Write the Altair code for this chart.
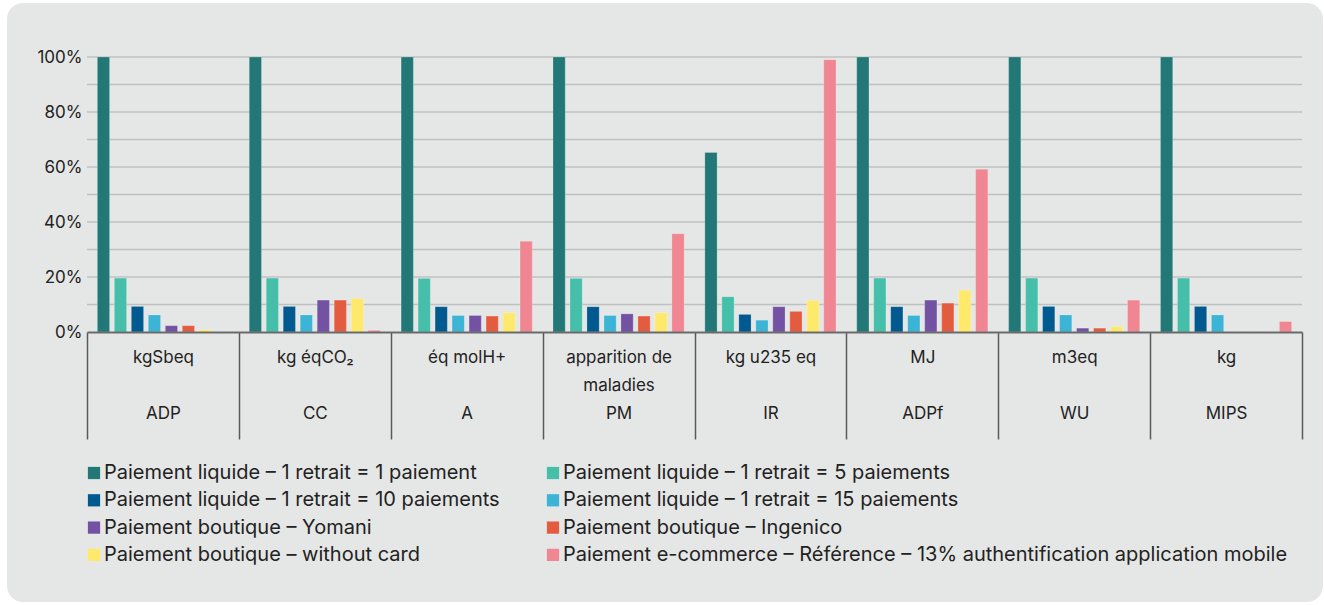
import altair as alt
import pandas as pd

categories = [
    "kgSbeq|\u200b|ADP",
    "kg éqCO₂|\u200b|CC",
    "éq molH+|\u200b|A",
    "apparition de|maladies|PM",
    "kg u235 eq|\u200b|IR",
    "MJ|\u200b|ADPf",
    "m3eq|\u200b|WU",
    "kg|\u200b|MIPS",
]

series = [
    "Paiement liquide – 1 retrait = 1 paiement",
    "Paiement liquide – 1 retrait = 5 paiements",
    "Paiement liquide – 1 retrait = 10 paiements",
    "Paiement liquide – 1 retrait = 15 paiements",
    "Paiement boutique – Yomani",
    "Paiement boutique – Ingenico",
    "Paiement boutique – without card",
    "Paiement e-commerce – Référence – 13% authentification application mobile",
]

colors = ["#227876", "#45bfa9", "#005a8f", "#3bb4d6", "#7452a3", "#e45c3f", "#ffe96b", "#f08691"]

liquide_1 = [100, 100, 100, 100, 65.3, 100, 100, 100]
liquide_5 = [19.6, 19.6, 19.5, 19.5, 12.8, 19.6, 19.6, 19.6]
liquide_10 = [9.3, 9.3, 9.2, 9.2, 6.4, 9.2, 9.3, 9.3]
liquide_15 = [6.2, 6.2, 6.0, 6.0, 4.3, 6.0, 6.2, 6.2]
yomani = [2.3, 11.6, 6.0, 6.6, 9.2, 11.6, 1.4, 0]
ingenico = [2.3, 11.6, 5.8, 5.8, 7.5, 10.5, 1.4, 0]
without_card = [0.8, 12.2, 7.0, 7.0, 11.5, 15.2, 2.0, 0]
ecommerce = [0, 0.6, 33.0, 35.7, 99.0, 59.2, 11.6, 3.8]

grid_values = [0.1, 0.2, 0.3, 0.4, 0.5, 0.6, 0.7, 0.8, 0.9, 1.0]
y_tick_values = [0, 0.2, 0.4, 0.6, 0.8, 1.0]

all_values = [liquide_1, liquide_5, liquide_10, liquide_15, yomani, ingenico, without_card, ecommerce]
rows = []
for s, vals in zip(series, all_values):
    for c, v in zip(categories, vals):
        rows.append({"cat": c, "series": s, "value": v / 100.0})
df = pd.DataFrame(rows)

# legend is filled column by column: reorder so that it reads row by row
legend_order = [0, 2, 4, 6, 1, 3, 5, 7]
legend_domain = [series[i] for i in legend_order]
legend_range = [colors[i] for i in legend_order]

W, H = 1215, 275

y_axis = alt.Axis(
    title=None,
    values=y_tick_values,
    format=".0%",
    grid=False,
    domain=False,
    ticks=False,
    labelFontSize=17,
    labelColor="#222222",
    labelPadding=5,
    zindex=1,
)

bg = alt.Chart(pd.DataFrame({"a": [0]})).mark_rect(
    cornerRadius=16, color="#e5e7e6"
).encode(
    x=alt.value(-80), x2=alt.value(1236), y=alt.value(-54), y2=alt.value(545)
)

grid = alt.Chart(pd.DataFrame({"value": grid_values})).mark_rule(
    color="#bfc1c0", strokeWidth=1.5
).encode(
    y=alt.Y("value:Q", scale=alt.Scale(domain=[0, 1]), axis=y_axis)
)

bars = alt.Chart(df).mark_bar(
    stroke="#ffffff", strokeWidth=0.6, strokeOpacity=0.35
).encode(
    x=alt.X(
        "cat:N",
        sort=categories,
        scale=alt.Scale(paddingInner=0, paddingOuter=0),
        axis=alt.Axis(
            title=None,
            labelAngle=0,
            tickBand="extent",
            tickSize=107,
            tickColor="#5a5a5a",
            tickWidth=1.5,
            domainColor="#6a6a6a",
            domainWidth=2,
            labelPadding=-90,
            labelBaseline="top",
            labelLineHeight=28,
            labelFontSize=17,
            labelColor="#222222",
            labelExpr="split(datum.label, '|')",
            labelOverlap=False,
            zindex=1,
        ),
    ),
    xOffset=alt.XOffset(
        "series:N", sort=series, scale=alt.Scale(paddingInner=0.28, paddingOuter=0.61)
    ),
    y=alt.Y("value:Q", scale=alt.Scale(domain=[0, 1]), axis=y_axis),
    color=alt.Color(
        "series:N",
        scale=alt.Scale(domain=legend_domain, range=legend_range),
        legend=alt.Legend(
            title=None,
            orient="none",
            legendX=-3,
            legendY=406,
            columns=2,
            symbolType="square",
            symbolSize=150,
            symbolStrokeWidth=0,
            symbolOpacity=1,
            labelFontSize=20,
            labelColor="#222222",
            labelLimit=900,
            labelOffset=0,
            columnPadding=43,
            rowPadding=7.3,
            padding=0,
        ),
    ),
)

chart = alt.layer(bg, grid, bars).properties(
    width=W,
    height=H,
    autosize=alt.AutoSizeParams(type="none"),
    padding={"left": 87, "top": 57, "right": 22, "bottom": 273},
    background="#ffffff",
).configure(font="Inter").configure_view(stroke=None)

chart.save("out.html", embed_options={"renderer": "svg", "actions": False})
